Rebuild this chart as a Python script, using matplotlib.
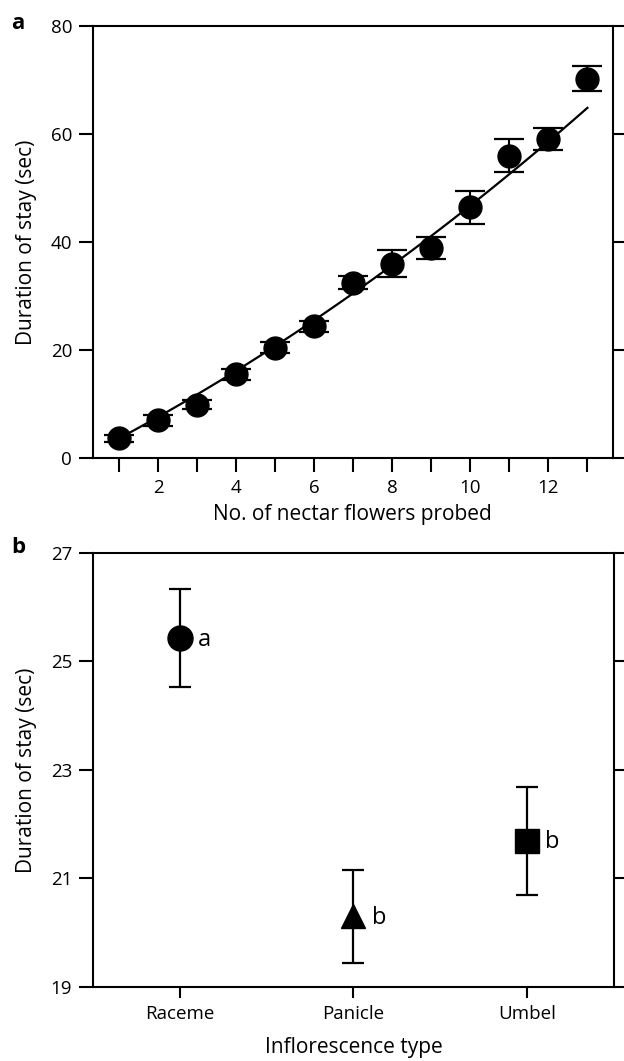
import matplotlib.pyplot as plt
import numpy as np

plt.rcParams['font.family'] = ['Open Sans', 'DejaVu Sans']

# panel a: duration of stay vs number of flowers probed
n_flowers = [1, 2, 3, 4, 5, 6, 7, 8, 9, 10, 11, 12, 13]
stay_mean = [3.65, 7.0, 9.9, 15.5, 20.4, 24.4, 32.5, 36.0, 38.9, 46.4, 56.0, 59.1, 70.2]
stay_err = [0.6, 1.0, 0.8, 1.0, 1.0, 1.0, 1.2, 2.5, 2.0, 3.0, 3.0, 2.0, 2.3]
# fitted curve (quadratic), coefficients
fit_coef = [0.1035, 3.65, -0.1]

# panel b: inflorescence types
inflo_types = ['Raceme', 'Panicle', 'Umbel']
inflo_mean = [25.43, 20.3, 21.69]
inflo_err = [0.9, 0.85, 1.0]
inflo_markers = ['o', '^', 's']
inflo_msize = [18, 17, 17]
inflo_letters = ['a', 'b', 'b']

fig = plt.figure(figsize=(6.24, 10.61), dpi=100)
ax1 = fig.add_axes([0.149, 0.5683, 0.833, 0.4072])
ax2 = fig.add_axes([0.149, 0.0698, 0.835, 0.409])


def style_axes(ax):
	for sp in ax.spines.values():
		sp.set_linewidth(1.5)
	ax.tick_params(axis='both', direction='out', length=10, width=1.5,
				   labelsize=13.5, pad=5)
	ax.tick_params(axis='y', right=True, labelright=False)


# --- panel a ---
ax1.errorbar(n_flowers, stay_mean, yerr=stay_err, fmt='o', color='black',
			 markersize=16.5, capsize=10.5, elinewidth=1.5, capthick=1.6, zorder=3)
xs = np.linspace(n_flowers[0], n_flowers[-1], 100)
ax1.plot(xs, np.polyval(fit_coef, xs), color='black', lw=1.6, zorder=2)
ax1.set_xlim(0.33, 13.65)
ax1.set_ylim(0, 80)
ax1.set_xticks(n_flowers)
ax1.set_xticklabels([str(n) if n % 2 == 0 else '' for n in n_flowers])
ax1.set_yticks([0, 20, 40, 60, 80])
style_axes(ax1)
ax1.set_xlabel('No. of nectar flowers probed', fontsize=15, labelpad=5)
ax1.set_ylabel('Duration of stay (sec)', fontsize=15, labelpad=10)
fig.text(0.029, 0.978, 'a', fontsize=16, fontweight='bold', va='center', ha='center')

# --- panel b ---
pos = np.arange(len(inflo_types))
for i in range(len(inflo_types)):
	ax2.errorbar(pos[i], inflo_mean[i], yerr=inflo_err[i], fmt=inflo_markers[i],
				 color='black', markersize=inflo_msize[i],
				 capsize=8, elinewidth=1.6, capthick=1.6)
	ax2.annotate(inflo_letters[i], (pos[i], inflo_mean[i]), xytext=(13, -1),
				 textcoords='offset points', va='center', ha='left', fontsize=17)
ax2.set_xlim(-0.5, 2.5)
ax2.set_ylim(19, 27)
ax2.set_xticks(pos)
ax2.set_xticklabels(inflo_types)
ax2.set_yticks([19, 21, 23, 25, 27])
style_axes(ax2)
ax2.tick_params(axis='x', labelsize=13.5, length=8)
ax2.set_xlabel('Inflorescence type', fontsize=15, labelpad=10)
ax2.set_ylabel('Duration of stay (sec)', fontsize=15, labelpad=10)
fig.text(0.029, 0.484, 'b', fontsize=16, fontweight='bold', va='center', ha='center')

fig.savefig('out.png', dpi=100)
